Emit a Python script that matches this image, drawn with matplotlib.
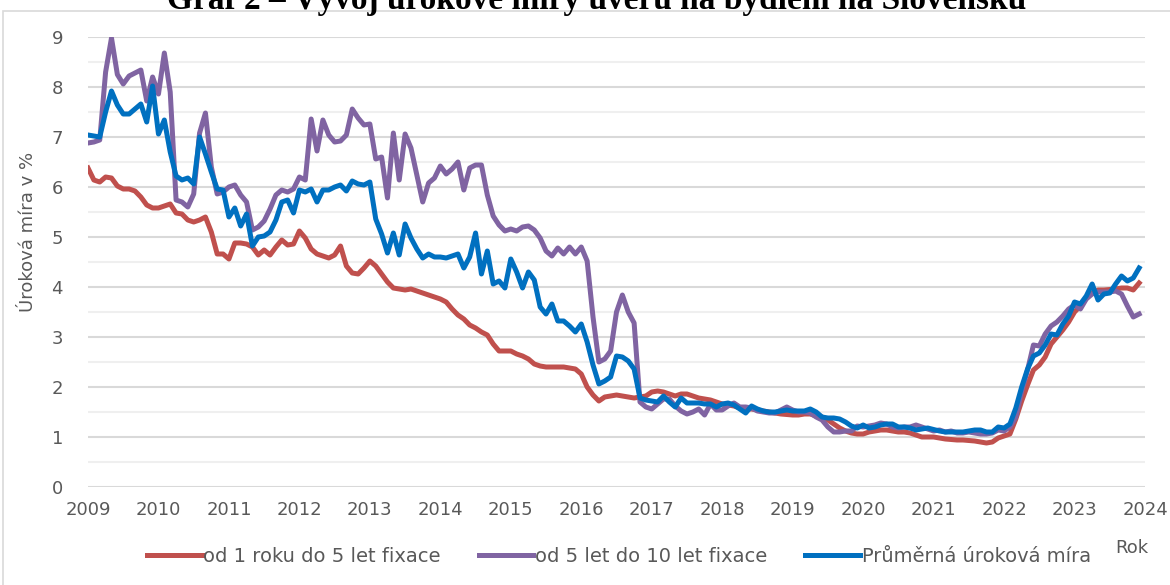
import matplotlib
matplotlib.use('Agg')
import matplotlib.pyplot as plt
import numpy as np
from matplotlib.patches import Rectangle

plt.rcParams['font.family'] = ['DejaVu Sans']

# měsíční data 01/2009 - 12/2023 (úroková míra v %)
red = [
    6.38, 6.14, 6.10, 6.20, 6.18, 6.02, 5.96, 5.96, 5.92, 5.80, 5.64, 5.58,  # 2009
    5.58, 5.62, 5.66, 5.48, 5.46, 5.34, 5.30, 5.34, 5.40, 5.10, 4.66, 4.66,  # 2010
    4.56, 4.88, 4.88, 4.86, 4.80, 4.64, 4.74, 4.64, 4.80, 4.94, 4.84, 4.86,  # 2011
    5.12, 4.98, 4.76, 4.66, 4.62, 4.58, 4.64, 4.82, 4.42, 4.28, 4.26, 4.38,  # 2012
    4.52, 4.42, 4.26, 4.10, 3.98, 3.96, 3.94, 3.96, 3.92, 3.88, 3.84, 3.80,  # 2013
    3.76, 3.70, 3.56, 3.44, 3.36, 3.24, 3.18, 3.10, 3.04, 2.86, 2.72, 2.72,  # 2014
    2.72, 2.66, 2.62, 2.56, 2.46, 2.42, 2.40, 2.40, 2.40, 2.40, 2.38, 2.36,  # 2015
    2.26, 2.00, 1.84, 1.72, 1.80, 1.82, 1.84, 1.82, 1.80, 1.78, 1.80, 1.82,  # 2016
    1.90, 1.92, 1.90, 1.86, 1.82, 1.86, 1.86, 1.82, 1.78, 1.76, 1.74, 1.70,  # 2017
    1.66, 1.64, 1.62, 1.58, 1.56, 1.56, 1.54, 1.52, 1.50, 1.48, 1.46, 1.45,  # 2018
    1.44, 1.44, 1.46, 1.46, 1.42, 1.40, 1.34, 1.26, 1.18, 1.12, 1.08, 1.06,  # 2019
    1.06, 1.10, 1.12, 1.14, 1.14, 1.12, 1.10, 1.10, 1.08, 1.04, 1.00, 1.00,  # 2020
    1.00, 0.98, 0.96, 0.95, 0.94, 0.94, 0.93, 0.92, 0.90, 0.88, 0.90, 0.98,  # 2021
    1.02, 1.06, 1.36, 1.72, 2.04, 2.34, 2.44, 2.60, 2.86, 3.00, 3.14, 3.30,  # 2022
    3.50, 3.62, 3.78, 3.88, 3.94, 3.94, 3.95, 3.96, 3.98, 3.98, 3.94, 4.08,  # 2023
]

purple = [
    6.88, 6.90, 6.94, 8.30, 8.98, 8.25, 8.06, 8.22, 8.28, 8.34, 7.72, 8.20,  # 2009
    7.86, 8.68, 7.90, 5.74, 5.70, 5.60, 5.86, 7.08, 7.48, 6.40, 5.86, 5.90,  # 2010
    6.00, 6.04, 5.84, 5.70, 5.14, 5.20, 5.32, 5.56, 5.84, 5.94, 5.90, 5.96,  # 2011
    6.20, 6.14, 7.36, 6.72, 7.34, 7.04, 6.90, 6.92, 7.04, 7.56, 7.38, 7.24,  # 2012
    7.26, 6.56, 6.60, 5.78, 7.08, 6.14, 7.06, 6.78, 6.24, 5.70, 6.08, 6.18,  # 2013
    6.42, 6.26, 6.36, 6.50, 5.94, 6.38, 6.44, 6.44, 5.84, 5.42, 5.24, 5.12,  # 2014
    5.16, 5.12, 5.20, 5.22, 5.14, 4.98, 4.72, 4.62, 4.78, 4.66, 4.80, 4.66,  # 2015
    4.80, 4.52, 3.40, 2.50, 2.56, 2.72, 3.50, 3.84, 3.50, 3.28, 1.70, 1.60,  # 2016
    1.56, 1.66, 1.76, 1.76, 1.62, 1.52, 1.46, 1.50, 1.56, 1.44, 1.66, 1.54,  # 2017
    1.54, 1.62, 1.68, 1.60, 1.60, 1.58, 1.52, 1.50, 1.48, 1.48, 1.54, 1.60,  # 2018
    1.54, 1.50, 1.50, 1.48, 1.40, 1.34, 1.20, 1.10, 1.10, 1.12, 1.12, 1.22,  # 2019
    1.20, 1.22, 1.24, 1.28, 1.26, 1.20, 1.18, 1.20, 1.20, 1.24, 1.20, 1.16,  # 2020
    1.12, 1.14, 1.10, 1.12, 1.08, 1.08, 1.10, 1.08, 1.06, 1.06, 1.08, 1.14,  # 2021
    1.12, 1.20, 1.40, 1.92, 2.34, 2.84, 2.82, 3.06, 3.22, 3.30, 3.42, 3.56,  # 2022
    3.64, 3.56, 3.76, 3.86, 3.90, 3.90, 3.90, 3.92, 3.86, 3.62, 3.40, 3.46,  # 2023
]

blue = [
    7.04, 7.02, 7.00, 7.50, 7.92, 7.64, 7.46, 7.46, 7.56, 7.66, 7.30, 8.02,  # 2009
    7.06, 7.34, 6.70, 6.22, 6.14, 6.18, 6.06, 7.00, 6.66, 6.30, 5.96, 5.94,  # 2010
    5.40, 5.58, 5.22, 5.46, 4.82, 5.00, 5.02, 5.10, 5.34, 5.70, 5.74, 5.48,  # 2011
    5.94, 5.90, 5.96, 5.70, 5.94, 5.94, 6.00, 6.04, 5.92, 6.12, 6.06, 6.04,  # 2012
    6.10, 5.36, 5.06, 4.68, 5.08, 4.64, 5.26, 4.98, 4.76, 4.58, 4.66, 4.60,  # 2013
    4.60, 4.58, 4.62, 4.66, 4.38, 4.60, 5.08, 4.26, 4.72, 4.06, 4.12, 3.98,  # 2014
    4.56, 4.30, 3.98, 4.30, 4.14, 3.60, 3.46, 3.66, 3.32, 3.32, 3.22, 3.10,  # 2015
    3.26, 2.90, 2.44, 2.06, 2.12, 2.20, 2.62, 2.60, 2.52, 2.36, 1.78, 1.74,  # 2016
    1.72, 1.70, 1.82, 1.70, 1.60, 1.78, 1.68, 1.68, 1.68, 1.66, 1.66, 1.60,  # 2017
    1.66, 1.68, 1.64, 1.56, 1.48, 1.62, 1.56, 1.52, 1.50, 1.50, 1.52, 1.54,  # 2018
    1.52, 1.52, 1.52, 1.56, 1.50, 1.40, 1.38, 1.38, 1.36, 1.30, 1.22, 1.18,  # 2019
    1.24, 1.18, 1.20, 1.24, 1.26, 1.26, 1.20, 1.20, 1.18, 1.14, 1.16, 1.18,  # 2020
    1.15, 1.12, 1.10, 1.10, 1.10, 1.10, 1.12, 1.14, 1.14, 1.10, 1.10, 1.20,  # 2021
    1.18, 1.26, 1.58, 2.00, 2.36, 2.62, 2.68, 2.84, 3.06, 3.04, 3.26, 3.42,  # 2022
    3.70, 3.66, 3.82, 4.06, 3.74, 3.86, 3.88, 4.06, 4.22, 4.12, 4.18, 4.38,  # 2023
]

years = list(range(2009, 2025))
labels = ['od 1 roku do 5 let fixace', 'od 5 let do 10 let fixace', 'Průměrná úroková míra']
colors = ['#C0504D', '#8064A2', '#0070C0']

x = 2009 + np.arange(len(red)) / 12

fig = plt.figure(figsize=(11.7, 5.85), dpi=100)
ax = fig.add_axes([88 / 1170, 1 - 487 / 585, (1145 - 88) / 1170, 450 / 585])

for ser, lab, col in zip([red, purple, blue], labels, colors):
    ax.plot(x, ser, color=col, lw=3.6, label=lab, solid_joinstyle='round')

ax.set_xlim(2009, 2024)
ax.set_ylim(0, 9)
ax.set_yticks(range(0, 10))
ax.set_yticks(np.arange(0.5, 9, 1), minor=True)
ax.set_xticks(years)
ax.set_xticklabels([str(y) for y in years])
ax.grid(axis='y', which='major', color='#d9d9d9', lw=1.5)
ax.grid(axis='y', which='minor', color='#efefef', lw=1.5)
ax.set_axisbelow(True)
for s in ax.spines.values():
    s.set_visible(False)
ax.tick_params(axis='both', which='both', length=0, labelsize=13, labelcolor='#595959')
ax.tick_params(axis='x', pad=10)
ax.tick_params(axis='y', pad=18)

fig.text(28 / 1170, 1 - 232 / 585, 'Úroková míra v %', rotation=90, ha='center', va='center',
         fontsize=13, color='#595959')
fig.text(1132 / 1170, 1 - 548 / 585, 'Rok', ha='center', va='center', fontsize=13, color='#595959')

# nadpis je v originálu nahoře oříznutý
fig.text(597 / 1170, 1 - 9 / 585, 'Graf 2 – Vývoj úrokové míry úvěrů na bydlení na Slovensku',
         ha='center', va='baseline', fontsize=24, fontweight='bold', family='Liberation Serif')

fig.legend(loc='center', bbox_to_anchor=(619 / 1170, 1 - 556 / 585), ncol=3, frameon=False,
           fontsize=14, handlelength=2.8, handletextpad=0.1, columnspacing=1.95,
           labelcolor='#595959')

fig.patches.append(Rectangle((3 / 1170, -0.02), 1.0, 1 - 11 / 585 + 0.02, transform=fig.transFigure,
                             fill=False, edgecolor='#d9d9d9', lw=1.2))

fig.savefig('out.png', dpi=100)
